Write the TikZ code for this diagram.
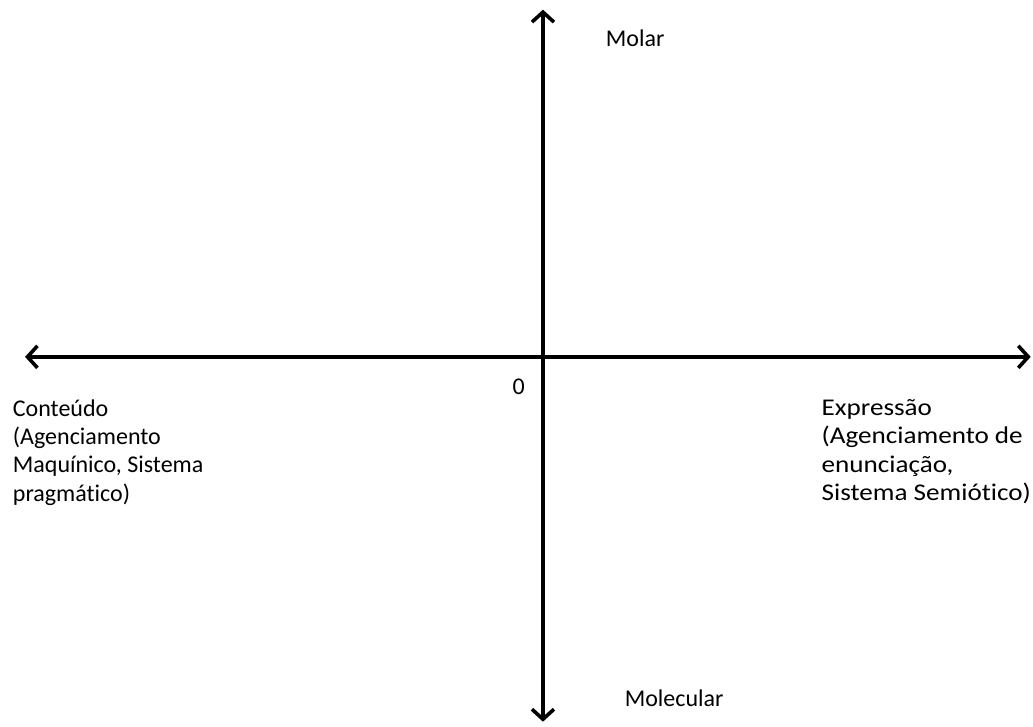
\documentclass[tikz,border=0pt]{standalone}
\usepackage{fontspec}
\setmainfont[Ligatures=NoCommon]{Carlito}
\newfontfamily\widefont[FakeStretch=1.13,Ligatures=NoCommon]{Carlito}
\usetikzlibrary{arrows.meta}

\begin{document}
\begin{tikzpicture}[line cap=round,line join=round,
  axis/.style={line width=1.8pt,{Straight Barb[length=5pt,width=11pt]}-{Straight Barb[length=5pt,width=11pt]}},
  lbl/.style={inner sep=0pt,font=\fontsize{12}{14.2}\selectfont,align=left}]
  \useasboundingbox (-9.54,-6.50) rectangle (8.61,6.27);
  \coordinate (O) at (0,0);
  \coordinate (T) at (0,6.10);
  \coordinate (B) at (0,-6.41);
  \coordinate (L) at (-9.10,0);
  \coordinate (R) at (8.57,0);
  \draw[axis] (B) -- (T);
  \draw[axis] (L) -- (R);
  \node[lbl,anchor=base west] (molar) at (1.10,5.45) {Molar};
  \node[lbl,anchor=base west] (molecular) at (1.43,-6.15) {Molecular};
  \node[lbl,anchor=base west] (zero) at (-0.54,-0.67) {0};
  \node[lbl,anchor=north west] (conteudo) at (-9.32,-0.74)
    {Conteúdo\\(Agenciamento\\Maquínico, Sistema\\pragmático)};
  \node[lbl,font=\widefont\fontsize{12}{14.2}\selectfont,anchor=north west] (expressao) at (4.89,-0.74)
    {Expressão\\(Agenciamento de\\enunciação,\\Sistema Semiótico)};
\end{tikzpicture}
\end{document}
